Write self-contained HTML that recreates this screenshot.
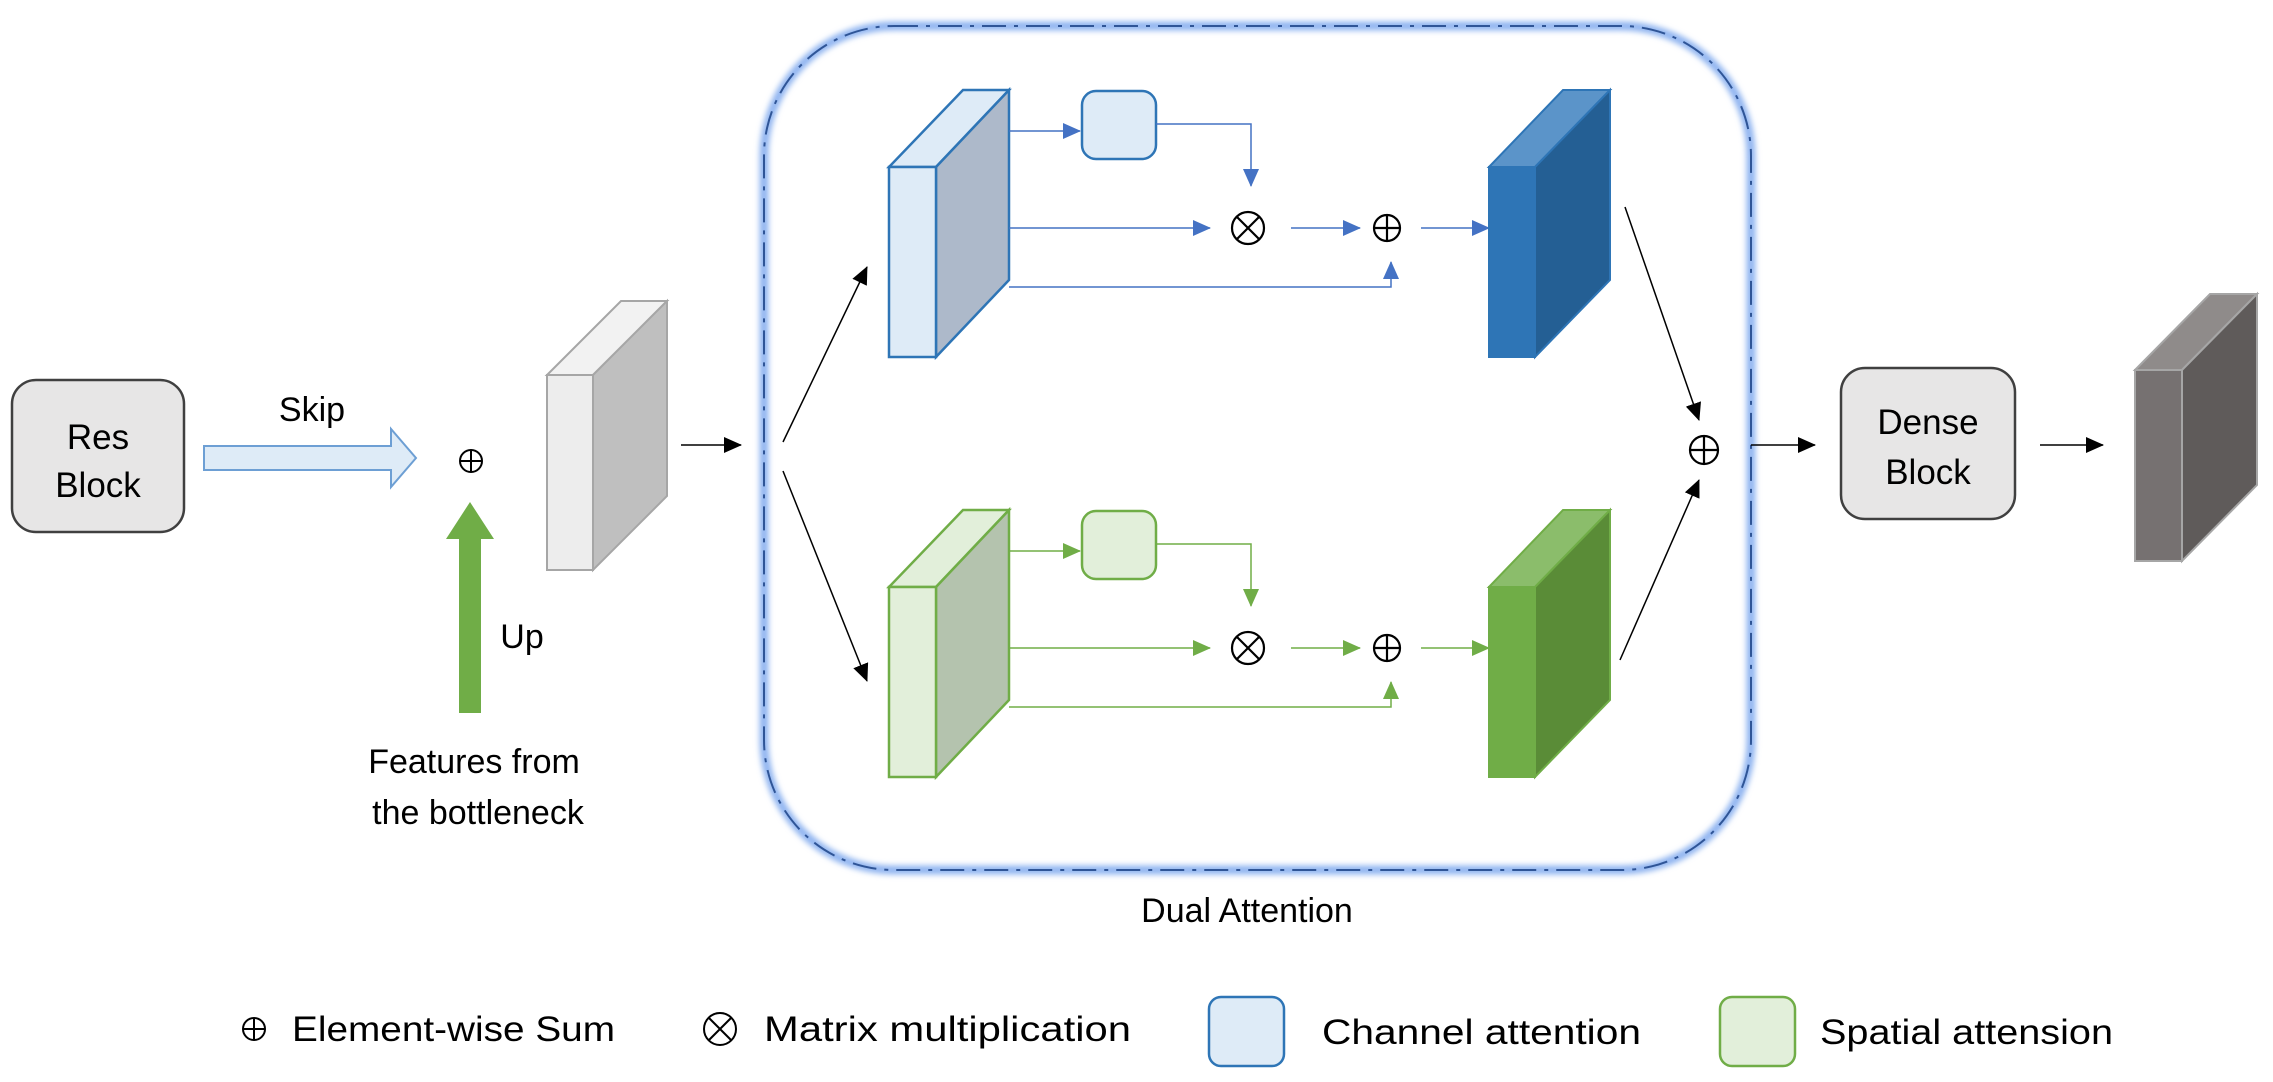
<!DOCTYPE html>
<html><head><meta charset="utf-8"><style>
html,body{margin:0;padding:0;background:#fff;}
svg{display:block;}
text{font-family:"Liberation Sans",sans-serif;fill:#000;}
</style></head><body>
<svg width="2273" height="1082" viewBox="0 0 2273 1082" xmlns="http://www.w3.org/2000/svg">
<defs>
<marker id="ak" markerWidth="10" markerHeight="10" refX="9" refY="5" orient="auto" markerUnits="userSpaceOnUse"><path d="M0,0 L10,5 L0,10 z" fill="#000"/></marker>
<marker id="ab" markerWidth="18" markerHeight="16" refX="17" refY="8" orient="auto" markerUnits="userSpaceOnUse"><path d="M0,0 L18,8 L0,16 z" fill="#4472c4"/></marker>
<marker id="ag" markerWidth="18" markerHeight="16" refX="17" refY="8" orient="auto" markerUnits="userSpaceOnUse"><path d="M0,0 L18,8 L0,16 z" fill="#70ad47"/></marker>
<marker id="ak2" markerWidth="18" markerHeight="16" refX="17" refY="8" orient="auto" markerUnits="userSpaceOnUse"><path d="M0,0 L18,8 L0,16 z" fill="#000"/></marker>
<filter id="glow" x="-5%" y="-5%" width="110%" height="110%"><feGaussianBlur stdDeviation="3"/></filter>
</defs>

<!-- Res Block -->
<rect x="12" y="380" width="172" height="152" rx="24" fill="#e7e6e6" stroke="#404040" stroke-width="2.5"/>
<text x="98" y="449" font-size="35" text-anchor="middle">Res</text>
<text x="98" y="497" font-size="35" text-anchor="middle">Block</text>

<!-- Skip -->
<text x="312" y="421" font-size="34" text-anchor="middle">Skip</text>
<path d="M204,446 L391,446 L391,429 L416,458 L391,487 L391,470 L204,470 z" fill="#deebf7" stroke="#6d9fd4" stroke-width="2"/>
<!-- plus -->
<circle cx="471" cy="461" r="11" fill="none" stroke="#000" stroke-width="2"/>
<line x1="460" y1="461" x2="482" y2="461" stroke="#000" stroke-width="2"/><line x1="471" y1="450" x2="471" y2="472" stroke="#000" stroke-width="2"/>
<!-- Up arrow -->
<path d="M459,713 L459,539 L446,539 L470,502 L494,539 L481,539 L481,713 z" fill="#70ad47"/>
<text x="522" y="648" font-size="34" text-anchor="middle">Up</text>
<text x="474" y="773" font-size="34" text-anchor="middle">Features from</text>
<text x="478" y="824" font-size="34" text-anchor="middle">the bottleneck</text>

<!-- gray block 1 -->
<path d="M547,375 L621,301 L667,301 L593,375 z" fill="#f2f2f2" stroke="#a6a6a6" stroke-width="2"/>
<path d="M593,375 L667,301 L667,496 L593,570 z" fill="#bfbfbf" stroke="#a6a6a6" stroke-width="2"/>
<rect x="547" y="375" width="46" height="195" fill="#ededed" stroke="#a6a6a6" stroke-width="2"/>
<line x1="681" y1="445" x2="741" y2="445" stroke="#000" stroke-width="1.5" marker-end="url(#ak2)"/>

<!-- Dual attention box -->
<rect x="764" y="26" width="987" height="844" rx="130" fill="none" stroke="#8fb4f0" stroke-width="9" filter="url(#glow)"/>
<rect x="764" y="26" width="987" height="844" rx="130" fill="none" stroke="#2f5597" stroke-width="2" stroke-dasharray="24,8,4,8"/>
<text x="1247" y="922" font-size="34" text-anchor="middle">Dual Attention</text>

<line x1="783" y1="442" x2="867" y2="267" stroke="#000" stroke-width="1.5" marker-end="url(#ak2)"/>
<line x1="783" y1="471" x2="867" y2="681" stroke="#000" stroke-width="1.5" marker-end="url(#ak2)"/>

<!-- blue light block -->
<path d="M889,167 L963,90 L1009,90 L936,167 z" fill="#deebf7" stroke="#2e75b6" stroke-width="2.5"/>
<path d="M936,167 L1009,90 L1009,280 L936,357 z" fill="#adb9ca" stroke="#2e75b6" stroke-width="2.5"/>
<rect x="889" y="167" width="47" height="190" fill="#deebf7" stroke="#2e75b6" stroke-width="2.5"/>
<rect x="1082" y="91" width="74" height="68" rx="14" fill="#deebf7" stroke="#2e75b6" stroke-width="2.5"/>

<!-- green light block -->
<path d="M889,587 L963,510 L1009,510 L936,587 z" fill="#e2efda" stroke="#70ad47" stroke-width="2.5"/>
<path d="M936,587 L1009,510 L1009,700 L936,777 z" fill="#b4c3ae" stroke="#70ad47" stroke-width="2.5"/>
<rect x="889" y="587" width="47" height="190" fill="#e2efda" stroke="#70ad47" stroke-width="2.5"/>
<rect x="1082" y="511" width="74" height="68" rx="14" fill="#e2efda" stroke="#70ad47" stroke-width="2.5"/>

<!-- blue connectors -->
<g stroke="#4472c4" stroke-width="1.5" fill="none">
<line x1="1009" y1="131" x2="1080" y2="131" marker-end="url(#ab)"/>
<polyline points="1156,124 1251,124 1251,186" marker-end="url(#ab)"/>
<line x1="1009" y1="228" x2="1210" y2="228" marker-end="url(#ab)"/>
<line x1="1291" y1="228" x2="1360" y2="228" marker-end="url(#ab)"/>
<line x1="1421" y1="228" x2="1489" y2="228" marker-end="url(#ab)"/>
<polyline points="1009,287 1391,287 1391,262" marker-end="url(#ab)"/>
</g>
<!-- green connectors -->
<g stroke="#70ad47" stroke-width="1.5" fill="none">
<line x1="1009" y1="551" x2="1080" y2="551" marker-end="url(#ag)"/>
<polyline points="1156,544 1251,544 1251,606" marker-end="url(#ag)"/>
<line x1="1009" y1="648" x2="1210" y2="648" marker-end="url(#ag)"/>
<line x1="1291" y1="648" x2="1360" y2="648" marker-end="url(#ag)"/>
<line x1="1421" y1="648" x2="1489" y2="648" marker-end="url(#ag)"/>
<polyline points="1009,707 1391,707 1391,682" marker-end="url(#ag)"/>
</g>

<!-- otimes/oplus symbols -->
<g stroke="#000" stroke-width="2.2" fill="none">
<circle cx="1248" cy="228" r="16"/><line x1="1237" y1="217" x2="1259" y2="239"/><line x1="1259" y1="217" x2="1237" y2="239"/>
<circle cx="1248" cy="648" r="16"/><line x1="1237" y1="637" x2="1259" y2="659"/><line x1="1259" y1="637" x2="1237" y2="659"/>
<circle cx="1387" cy="228" r="13"/><line x1="1374" y1="228" x2="1400" y2="228"/><line x1="1387" y1="215" x2="1387" y2="241"/>
<circle cx="1387" cy="648" r="13"/><line x1="1374" y1="648" x2="1400" y2="648"/><line x1="1387" y1="635" x2="1387" y2="661"/>
<circle cx="1704" cy="450" r="14"/><line x1="1690" y1="450" x2="1718" y2="450"/><line x1="1704" y1="436" x2="1704" y2="464"/>
</g>

<!-- dark blue block -->
<path d="M1489,167 L1563,90 L1610,90 L1535,167 z" fill="#5b94c9" stroke="#2e75b6" stroke-width="2"/>
<path d="M1535,167 L1610,90 L1610,280 L1535,357 z" fill="#245f94" stroke="#2e75b6" stroke-width="2"/>
<rect x="1489" y="167" width="46" height="190" fill="#2e75b6" stroke="#2e75b6" stroke-width="2"/>
<!-- dark green block -->
<path d="M1489,587 L1563,510 L1610,510 L1535,587 z" fill="#8bbd6b" stroke="#70ad47" stroke-width="2"/>
<path d="M1535,587 L1610,510 L1610,700 L1535,777 z" fill="#5a8c37" stroke="#70ad47" stroke-width="2"/>
<rect x="1489" y="587" width="46" height="190" fill="#70ad47" stroke="#70ad47" stroke-width="2"/>

<line x1="1625" y1="207" x2="1699" y2="420" stroke="#000" stroke-width="1.5" marker-end="url(#ak2)"/>
<line x1="1620" y1="660" x2="1699" y2="480" stroke="#000" stroke-width="1.5" marker-end="url(#ak2)"/>

<line x1="1751" y1="445" x2="1815" y2="445" stroke="#000" stroke-width="1.5" marker-end="url(#ak2)"/>
<!-- Dense block -->
<rect x="1841" y="368" width="174" height="151" rx="24" fill="#e7e6e6" stroke="#404040" stroke-width="2.5"/>
<text x="1928" y="434" font-size="35" text-anchor="middle">Dense</text>
<text x="1928" y="484" font-size="35" text-anchor="middle">Block</text>
<line x1="2040" y1="445" x2="2103" y2="445" stroke="#000" stroke-width="1.5" marker-end="url(#ak2)"/>

<!-- dark gray block -->
<path d="M2135,370 L2210,294 L2257,294 L2182,370 z" fill="#8f8b8a" stroke="#a6a6a6" stroke-width="2"/>
<path d="M2182,370 L2257,294 L2257,485 L2182,561 z" fill="#5f5b5a" stroke="#a6a6a6" stroke-width="2"/>
<rect x="2135" y="370" width="47" height="191" fill="#767171" stroke="#a6a6a6" stroke-width="2"/>

<!-- Legend -->
<g stroke="#000" stroke-width="2" fill="none">
<circle cx="254" cy="1029" r="11"/><line x1="243" y1="1029" x2="265" y2="1029"/><line x1="254" y1="1018" x2="254" y2="1040"/>
<circle cx="720" cy="1029" r="16"/><line x1="709" y1="1018" x2="731" y2="1040"/><line x1="731" y1="1018" x2="709" y2="1040"/>
</g>
<text x="292" y="1041" font-size="35" textLength="323" lengthAdjust="spacingAndGlyphs">Element-wise Sum</text>
<text x="764" y="1041" font-size="35" textLength="367" lengthAdjust="spacingAndGlyphs">Matrix multiplication</text>
<rect x="1209" y="997" width="75" height="69" rx="12" fill="#deebf7" stroke="#2e75b6" stroke-width="2.5"/>
<text x="1322" y="1044" font-size="35" textLength="319" lengthAdjust="spacingAndGlyphs">Channel attention</text>
<rect x="1720" y="997" width="75" height="69" rx="12" fill="#e2efda" stroke="#70ad47" stroke-width="2.5"/>
<text x="1820" y="1044" font-size="35" textLength="293" lengthAdjust="spacingAndGlyphs">Spatial attension</text>
</svg>
</body></html>
